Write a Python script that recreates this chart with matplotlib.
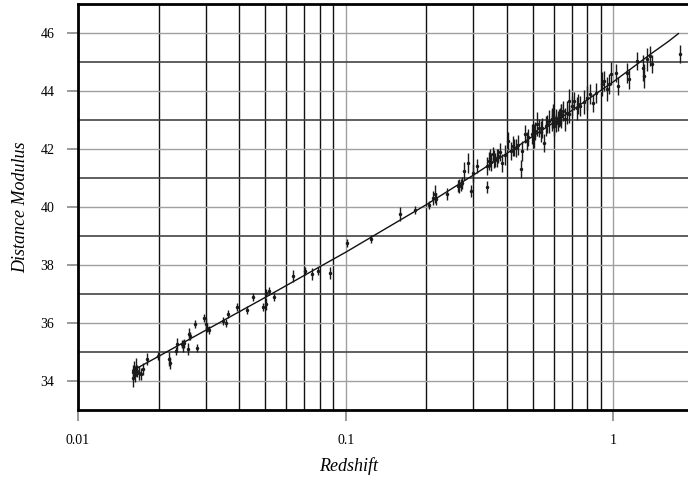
import numpy as np
import matplotlib
matplotlib.use("Agg")
import matplotlib.pyplot as plt
from matplotlib.ticker import FixedLocator, NullFormatter

plt.rcParams["font.family"] = ["Liberation Serif", "DejaVu Serif"]

# supernova points
redshift = [
    0.0160, 0.0161, 0.0162, 0.0163, 0.0164, 0.0166, 0.0169, 0.0172, 0.0175, 0.0181,
    0.0199, 0.0219, 0.0221, 0.0232, 0.0234, 0.0245, 0.0247, 0.0249, 0.0258, 0.0260,
    0.0262, 0.0274, 0.0279, 0.0296, 0.0301, 0.0304, 0.0309, 0.0348, 0.0357, 0.0363,
    0.0393, 0.0428, 0.0451, 0.0490, 0.0504, 0.0506, 0.0518, 0.0540, 0.0637, 0.0705,
    0.0749, 0.0789, 0.0873, 0.101, 0.124, 0.159, 0.182, 0.205, 0.212, 0.216,
    0.218, 0.239, 0.263, 0.270,
    0.265, 0.272, 0.277, 0.286, 0.294, 0.300, 0.310, 0.336, 0.338, 0.342,
    0.346, 0.354, 0.357, 0.366, 0.372, 0.385,
    0.405, 0.414, 0.420, 0.431, 0.452, 0.455, 0.469, 0.474, 0.496, 0.508,
    0.520, 0.528, 0.552, 0.560, 0.590, 0.595, 0.613, 0.624, 0.640, 0.660, 0.680,
    0.540, 0.565, 0.592, 0.610, 0.620, 0.635, 0.650, 0.685, 0.700, 0.710,
    0.730, 0.750, 0.800, 0.820, 0.840, 0.860, 0.910, 0.920, 0.950, 0.960,
    0.980, 1.02, 1.04, 1.12, 1.14, 1.23, 1.29, 1.30, 1.33, 1.37, 1.39, 1.77,
    0.350, 0.362, 0.378, 0.392, 0.425, 0.440, 0.480, 0.505, 0.535, 0.575,
    0.600, 0.630, 0.670, 0.740, 0.780,
]
dist_mod = [
    34.30, 34.10, 34.40, 34.22, 34.50, 34.35, 34.28, 34.25, 34.42, 34.76,
    34.86, 34.76, 34.62, 35.03, 35.28, 35.28, 35.20, 35.30, 35.10, 35.62,
    35.55, 35.97, 35.14, 36.17, 35.97, 35.83, 35.76, 36.07, 36.00, 36.31,
    36.55, 36.45, 36.90, 36.55, 36.65, 37.03, 37.10, 36.90, 37.62, 37.79,
    37.69, 37.79, 37.72, 38.76, 38.90, 39.76, 39.90, 40.07, 40.31, 40.45,
    40.28, 40.45, 40.72, 40.76,
    40.72, 40.83, 41.24, 41.52, 40.55, 41.17, 41.41, 40.69, 41.41, 41.59,
    41.69, 41.83, 41.66, 41.69, 41.76, 41.52,
    42.28, 41.93, 42.10, 42.03, 41.31, 41.93, 42.52, 42.28, 42.52, 42.62,
    42.86, 42.72, 42.21, 42.79, 43.03, 43.14, 42.90, 43.07, 43.21, 43.03, 43.21,
    42.72, 42.86, 43.03, 43.07, 42.97, 43.14, 43.31, 43.66, 43.48, 43.66,
    43.41, 43.48, 43.76, 43.90, 43.59, 43.93, 44.24, 44.34, 44.07, 44.24,
    44.59, 44.62, 44.17, 44.62, 44.41, 45.03, 44.79, 44.52, 45.10, 45.21, 44.93, 45.28,
    41.55, 41.62, 41.90, 41.80, 42.05, 42.15, 42.40, 42.45, 42.60, 42.95,
    42.80, 43.10, 43.25, 43.55, 43.62,
]
mod_err = [
    0.25, 0.30, 0.30, 0.25, 0.30, 0.20, 0.25, 0.20, 0.20, 0.20,
    0.15, 0.25, 0.20, 0.15, 0.20, 0.15, 0.20, 0.15, 0.20, 0.20,
    0.15, 0.15, 0.15, 0.15, 0.20, 0.15, 0.15, 0.15, 0.15, 0.15,
    0.15, 0.15, 0.15, 0.15, 0.20, 0.15, 0.15, 0.15, 0.20, 0.15,
    0.20, 0.15, 0.20, 0.15, 0.15, 0.25, 0.15, 0.15, 0.25, 0.30,
    0.20, 0.20, 0.20, 0.20,
    0.25, 0.20, 0.30, 0.35, 0.20, 0.30, 0.25, 0.20, 0.30, 0.30,
    0.30, 0.25, 0.30, 0.30, 0.25, 0.30,
    0.30, 0.30, 0.35, 0.30, 0.30, 0.35, 0.30, 0.30, 0.35, 0.30,
    0.40, 0.30, 0.30, 0.35, 0.30, 0.40, 0.30, 0.30, 0.35, 0.40, 0.30,
    0.35, 0.30, 0.40, 0.30, 0.35, 0.40, 0.35, 0.40, 0.35, 0.30,
    0.40, 0.35, 0.40, 0.35, 0.30, 0.35, 0.40, 0.35, 0.40, 0.35,
    0.40, 0.30, 0.30, 0.35, 0.35, 0.30, 0.45, 0.40, 0.40, 0.35, 0.30, 0.30,
    0.30, 0.25, 0.30, 0.35, 0.30, 0.35, 0.30, 0.40, 0.35, 0.40,
    0.35, 0.30, 0.40, 0.35, 0.40,
]

# model curve
curve_z = [0.016, 0.02, 0.03, 0.05, 0.07, 0.1, 0.15, 0.2, 0.3, 0.4, 0.5,
           0.6, 0.7, 0.8, 1.0, 1.2, 1.4, 1.6, 1.75]
curve_mu = [34.36, 34.85, 35.75, 36.88, 37.64, 38.44, 39.40, 40.08, 41.10, 41.85, 42.44,
            42.92, 43.33, 43.70, 44.32, 44.86, 45.32, 45.70, 45.98]

x_major = [0.01, 0.1, 1]
y_major = [34, 36, 38, 40, 42, 44, 46]

fig = plt.figure(figsize=(6.88, 4.83), dpi=100)
ax = fig.add_axes([78 / 688, 73 / 483, 610 / 688, 406 / 483])

ax.set_xscale("log")
ax.set_xlim(0.01, 1.9)
ax.set_ylim(33, 47)

ax.xaxis.set_major_locator(FixedLocator(x_major))
ax.xaxis.set_major_formatter(plt.FixedFormatter(["0.01", "0.1", "1"]))
ax.xaxis.set_minor_locator(FixedLocator([m * d for d in (0.01, 0.1) for m in range(2, 10)]))
ax.xaxis.set_minor_formatter(NullFormatter())
ax.yaxis.set_major_locator(FixedLocator(y_major))
ax.yaxis.set_minor_locator(FixedLocator([35, 37, 39, 41, 43, 45]))

ax.grid(which="major", color="#a0a0a0", lw=1.0)
ax.grid(which="minor", axis="x", color="#111111", lw=1.0)
ax.grid(which="minor", axis="y", color="#444444", lw=1.2)
ax.set_axisbelow(True)

ax.tick_params(which="major", direction="out", length=8, width=1.2, color="#888888",
               labelsize=10, pad=9)
ax.tick_params(which="minor", length=0)

for side in ("left", "bottom", "top"):
    ax.spines[side].set_linewidth(2)
    ax.spines[side].set_color("black")
ax.spines["right"].set_visible(False)

ax.plot(curve_z, curve_mu, color="#111111", lw=1.0, zorder=3)
ax.errorbar(redshift, dist_mod, yerr=mod_err, fmt="o", ms=1.5, color="#1a1a1a",
            ecolor="#1a1a1a", elinewidth=1.0, capsize=0, zorder=4)

ax.set_xlabel("Redshift", fontsize=13, style="italic")
ax.set_ylabel("Distance Modulus", fontsize=13, style="italic")
ax.xaxis.set_label_coords(0.443, -0.115)
ax.yaxis.set_label_coords(-0.08, 0.5)

fig.savefig("out.png", dpi=100)
